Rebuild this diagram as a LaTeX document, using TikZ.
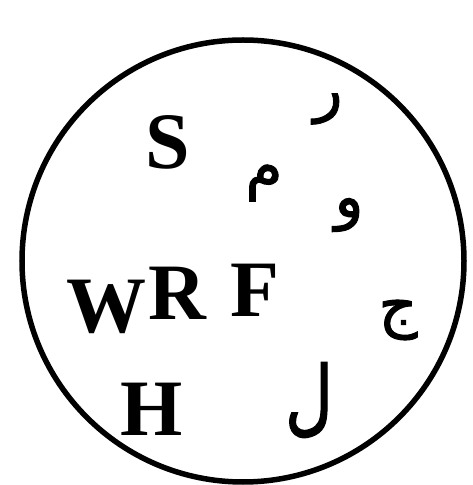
\documentclass[tikz,border=0pt]{standalone}
\usepackage{fontspec}
\usepackage{graphicx}
\setmainfont{Liberation Serif}
\TeXXeTstate=1
\newfontfamily\arabicfont[Script=Arabic,FakeBold=1.6]{DejaVu Sans}
\begin{document}
\begin{tikzpicture}[x=1pt,y=1pt,
  latin/.style={inner sep=0pt,font=\fontsize{80}{80}\selectfont\bfseries},
  arab/.style={inner sep=0pt,font=\fontsize{60}{60}\selectfont\arabicfont}]
\useasboundingbox (0,0) rectangle (472,485);
\draw[line width=5.5pt] (243,224) circle (221);
\node[latin] (S) at (168,343) {S};
\node[latin] (W) at (106,178) {W};
\node[latin] (R) at (177,192) {R};
\node[latin] (F) at (255,195) {F};
\node[latin] (H) at (152,076) {H};
\node[arab] (ra) at (328,376) {\beginR ر\endR};
\node[arab] (mim) at (264,302) {\beginR م\endR};
\node[arab] (waw) at (349,270) {\beginR و\endR};
\node[arab] (jim) at (398,165) {\beginR ج\endR};
\node[arab] (lam) at (309,85) {\scalebox{1.1}[1.38]{\beginR ل\endR}};
\end{tikzpicture}
\end{document}
